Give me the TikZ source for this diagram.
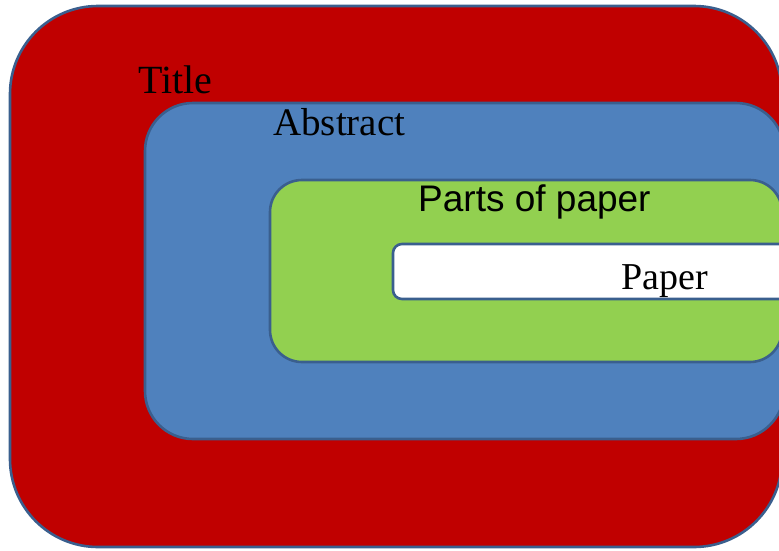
\documentclass[tikz,border=0pt]{standalone}
\usepackage{fontspec}
\setmainfont{Liberation Serif}
\newfontfamily\arialfont{Liberation Sans}
\definecolor{redfill}{HTML}{C00000}
\definecolor{bluefill}{HTML}{4F81BD}
\definecolor{greenfill}{HTML}{92D050}
\definecolor{edgeblue}{HTML}{3A5F8E}
\begin{document}
\begin{tikzpicture}[x=1pt,y=-1pt,
  layer/.style={draw=edgeblue,line width=2.6pt,anchor=north west,inner sep=0pt,outer sep=0pt},
  lbl/.style={anchor=base west,inner sep=0pt,font=\fontsize{38}{40}\selectfont}]
\useasboundingbox (0,0) rectangle (779,550);
\clip (0,0) rectangle (779,550);
\node[layer,fill=redfill,rounded corners=88pt,minimum width=772pt,minimum height=541pt] (title) at (10,6) {};
\node[layer,fill=bluefill,rounded corners=48pt,minimum width=639pt,minimum height=336pt] (abstract) at (145,103) {};
\node[layer,fill=greenfill,rounded corners=32pt,minimum width=512pt,minimum height=182pt] (parts) at (270,180) {};
\node[layer,fill=white,rounded corners=9pt,minimum width=420pt,minimum height=55pt] (paper) at (393,244) {};
\node[lbl,font=\fontsize{40}{42}\selectfont] (tTitle) at (138,93) {Title};
\node[lbl,font=\fontsize{39}{41}\selectfont] (tAbstract) at (273,135) {Abstract};
\node[lbl,font=\arialfont\fontsize{37}{40}\selectfont] (tParts) at (418,211) {Parts of paper};
\node[lbl] (tPaper) at (621,289) {Paper};
\end{tikzpicture}
\end{document}
